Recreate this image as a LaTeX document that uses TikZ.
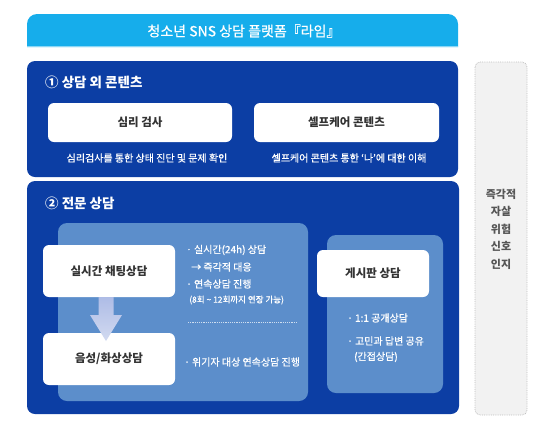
\documentclass[tikz,border=0pt]{standalone}
\usepackage{fontspec}
\setmainfont{Noto Sans CJK KR}
\newfontface\krmed{Noto Sans CJK KR}[FakeBold=0.7]
\usetikzlibrary{shapes.geometric}
\definecolor{hdrcyan}{HTML}{16ADEB}
\definecolor{darkblue}{HTML}{0C3EA4}
\definecolor{innerblue}{HTML}{5C8ECB}
\definecolor{dashfill}{HTML}{F2F2F2}
\definecolor{dashborder}{HTML}{BDBDBD}
\definecolor{boxtext}{HTML}{333333}
\definecolor{sidetext}{HTML}{555555}
\definecolor{arrowtop}{HTML}{AEBCE6}
\definecolor{arrowbot}{HTML}{D2DAF0}
\tikzset{
  section/.style={fill=darkblue, rounded corners=8pt},
  inner/.style={fill=innerblue, rounded corners=9pt},
  wbox/.style={fill=white, rounded corners=6pt, inner sep=0pt, text=boxtext, font=\fontsize{11.5}{13}\selectfont\bfseries},
  sectitle/.style={anchor=west, inner sep=0pt, text=white, font=\fontsize{13.5}{16}\selectfont\bfseries},
  caption/.style={inner sep=0pt, text=white, font=\krmed\fontsize{10}{12}\selectfont},
  bullet/.style={anchor=west, inner sep=0pt, text=white, font=\krmed\fontsize{10}{12}\selectfont},
  sidebox/.style={fill=dashfill, draw=dashborder, densely dotted, line width=0.8pt, rounded corners=5pt},
}
\begin{document}
\begin{tikzpicture}[x=1pt,y=-1pt]
\useasboundingbox (0,0) rectangle (534,429);
% header
\fill[hdrcyan] (27,47) [rounded corners=10pt] -- (27,14) -- (458,14) [sharp corners] -- (458,47) -- cycle;
\draw[white, opacity=0.5, line width=0.6pt] (27,46.7) -- (458,46.7);
\node[inner sep=0pt, text=white, font=\krmed\fontsize{14}{16}\selectfont] (title) at (244,31) {청소년 SNS 상담 플랫폼『라임』};
% section 1
\path[section] (27,61) rectangle (458,177);
\node[sectitle] (s1) at (45,82) {① 상담 외 콘텐츠};
\node[wbox, minimum width=184pt, minimum height=39pt] (b1) at (140,122.5) {심리 검사};
\node[wbox, minimum width=185pt, minimum height=39pt] (b2) at (346.5,122.5) {셀프케어 콘텐츠};
\node[caption] (c1) at (147,158) {심리검사를 통한 상태 진단 및 문제 확인};
\node[caption] (c2) at (349,158) {셀프케어 콘텐츠 통한 ‘나’에 대한 이해};
% section 2
\path[section] (27,181) rectangle (459,414);
\node[sectitle] (s2) at (45,203) {② 전문 상담};
\path[inner] (58,223) rectangle (308,401);
\path[inner] (327,235) rectangle (443,393);
\node[wbox, minimum width=132pt, minimum height=52pt] (chat) at (109,271) {실시간 채팅상담};
\node[wbox, minimum width=132pt, minimum height=52pt] (voice) at (109,359) {음성/화상상담};
\coordinate (atip) at (106,341);
\shade[top color=arrowtop, bottom color=arrowbot] (98.5,297) -- (113.5,297) -- (113.5,315) -- (122,315) -- (atip) -- (90,315) -- (98.5,315) -- cycle;
\node[bullet] (t1) at (186,250) {· 실시간(24h) 상담};
\node[bullet] (t2) at (191,267) {→ 즉각적 대응};
\node[bullet] (t3) at (186,284) {· 연속상담 진행};
\node[bullet, font=\krmed\fontsize{8.5}{10}\selectfont] (t4) at (189,300) {(8회 {\char"7E} 12회까지 연장 가능)};
\coordinate (d1) at (188,322);
\coordinate (d2) at (297,322);
\draw[white, opacity=0.7, dashed, dash pattern=on 1.2pt off 1pt, line width=0.5pt] (d1) -- (d2);
\node[bullet] (t5) at (184,362) {· 위기자 대상 연속상담 진행};
\node[wbox, minimum width=112pt, minimum height=47pt] (board) at (373,273.5) {게시판 상담};
\node[bullet] (r1) at (347,318) {· 1:1 공개상담};
\node[bullet] (r2) at (347,341) {· 고민과 답변 공유};
\node[bullet] (r3) at (354,357) {(간접상담)};
% side box
\path[sidebox] (475,62) rectangle (527,415);
\node[inner sep=0pt, text=sidetext, align=center, anchor=north, font=\fontsize{11}{17.5}\selectfont\bfseries] (side) at (501,189) {즉각적\\자살\\위험\\신호\\인지};
\end{tikzpicture}
\end{document}
